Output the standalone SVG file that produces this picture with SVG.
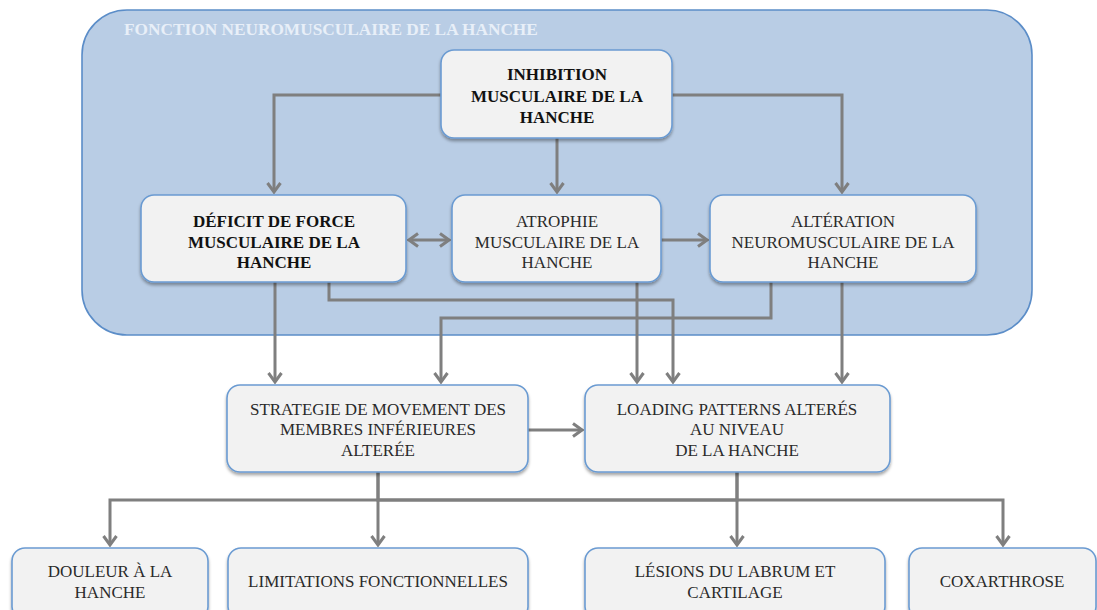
<svg xmlns="http://www.w3.org/2000/svg" width="1097" height="610" viewBox="0 0 1097 610">
<defs>
<style>
.cont{fill:#b9cde5;stroke:#5b8dc8;stroke-width:1.6}
.box{fill:#f2f2f2;stroke:#6b9bd2;stroke-width:1.6}
.t{font-family:"Liberation Serif","Times New Roman",serif;font-size:17px;fill:#2a2a2a;text-anchor:middle}
.b{font-weight:bold;fill:#111}
.title{font-family:"Liberation Serif","Times New Roman",serif;font-size:17.3px;font-weight:bold;fill:#e8eff8}
.c{fill:none;stroke:#7f7f7f;stroke-width:3}
</style>
<filter id="sh" x="-10%" y="-10%" width="120%" height="130%">
<feDropShadow dx="0" dy="2.5" stdDeviation="1.8" flood-color="#000" flood-opacity="0.35"/>
</filter>
<marker id="ah" viewBox="0 0 12 16" refX="10" refY="8" markerWidth="12" markerHeight="16" markerUnits="userSpaceOnUse" orient="auto-start-reverse">
<path d="M1,1.5 L10,8 L1,14.5" fill="none" stroke="#7f7f7f" stroke-width="3"/>
</marker>
</defs>

<g id="container">
<rect class="cont" x="82" y="10" width="950" height="325" rx="45" ry="45"/>
<text class="title" x="124" y="35">FONCTION NEUROMUSCULAIRE DE LA HANCHE</text>
</g>

<g id="connectors">
<path class="c" d="M441,95 H274 V192" marker-end="url(#ah)"/>
<path class="c" d="M557,138 V192" marker-end="url(#ah)"/>
<path class="c" d="M672,95 H842 V192" marker-end="url(#ah)"/>
<path class="c" d="M409,240 H449" marker-start="url(#ah)" marker-end="url(#ah)"/>
<path class="c" d="M661,240 H707" marker-end="url(#ah)"/>
<path class="c" d="M275,282 V382" marker-end="url(#ah)"/>
<path class="c" d="M329,282 V300 H673 V382" marker-end="url(#ah)"/>
<path class="c" d="M637,282 V382" marker-end="url(#ah)"/>
<path class="c" d="M771,282 V318 H441 V382" marker-end="url(#ah)"/>
<path class="c" d="M842,282 V382" marker-end="url(#ah)"/>
<path class="c" d="M528,430 H582" marker-end="url(#ah)"/>
<path class="c" d="M378,472 V545" marker-end="url(#ah)"/>
<path class="c" d="M378,472 V500 H1003 V545" marker-end="url(#ah)"/>
<path class="c" d="M737,472 V545" marker-end="url(#ah)"/>
<path class="c" d="M737,472 V500 H110 V545" marker-end="url(#ah)"/>
</g>

<g id="inhibition">
<rect class="box" filter="url(#sh)" x="441" y="50" width="231" height="88" rx="13"/>
<text class="t b" x="557" y="80">INHIBITION</text>
<text class="t b" x="557" y="102">MUSCULAIRE DE LA</text>
<text class="t b" x="557" y="123">HANCHE</text>
</g>

<g id="deficit">
<rect class="box" filter="url(#sh)" x="141" y="195" width="265" height="87" rx="13"/>
<text class="t b" x="274" y="227">DÉFICIT DE FORCE</text>
<text class="t b" x="274" y="248">MUSCULAIRE DE LA</text>
<text class="t b" x="274" y="268">HANCHE</text>
</g>

<g id="atrophie">
<rect class="box" filter="url(#sh)" x="452" y="195" width="209" height="87" rx="13"/>
<text class="t" x="557" y="227">ATROPHIE</text>
<text class="t" x="557" y="248">MUSCULAIRE DE LA</text>
<text class="t" x="557" y="268">HANCHE</text>
</g>

<g id="alteration">
<rect class="box" filter="url(#sh)" x="710" y="195" width="266" height="87" rx="13"/>
<text class="t" x="843" y="227">ALTÉRATION</text>
<text class="t" x="843" y="248">NEUROMUSCULAIRE DE LA</text>
<text class="t" x="843" y="268">HANCHE</text>
</g>

<g id="strategie">
<rect class="box" filter="url(#sh)" x="227" y="385" width="301" height="87" rx="13"/>
<text class="t" x="378" y="415">STRATEGIE DE MOVEMENT DES</text>
<text class="t" x="378" y="435">MEMBRES INFÉRIEURES</text>
<text class="t" x="378" y="456">ALTERÉE</text>
</g>

<g id="loading">
<rect class="box" filter="url(#sh)" x="585" y="385" width="305" height="87" rx="13"/>
<text class="t" x="737" y="415">LOADING PATTERNS ALTERÉS</text>
<text class="t" x="737" y="435">AU NIVEAU</text>
<text class="t" x="737" y="456">DE LA HANCHE</text>
</g>

<g id="douleur">
<rect class="box" filter="url(#sh)" x="12" y="548" width="196" height="72" rx="13"/>
<text class="t" x="110" y="577">DOULEUR À LA</text>
<text class="t" x="110" y="598">HANCHE</text>
</g>

<g id="limitations">
<rect class="box" filter="url(#sh)" x="228" y="548" width="300" height="72" rx="13"/>
<text class="t" x="378" y="587">LIMITATIONS FONCTIONNELLES</text>
</g>

<g id="lesions">
<rect class="box" filter="url(#sh)" x="585" y="548" width="300" height="72" rx="13"/>
<text class="t" x="735" y="577">LÉSIONS DU LABRUM ET</text>
<text class="t" x="735" y="598">CARTILAGE</text>
</g>

<g id="coxarthrose">
<rect class="box" filter="url(#sh)" x="909" y="548" width="187" height="72" rx="13"/>
<text class="t" x="1002" y="587">COXARTHROSE</text>
</g>
</svg>
